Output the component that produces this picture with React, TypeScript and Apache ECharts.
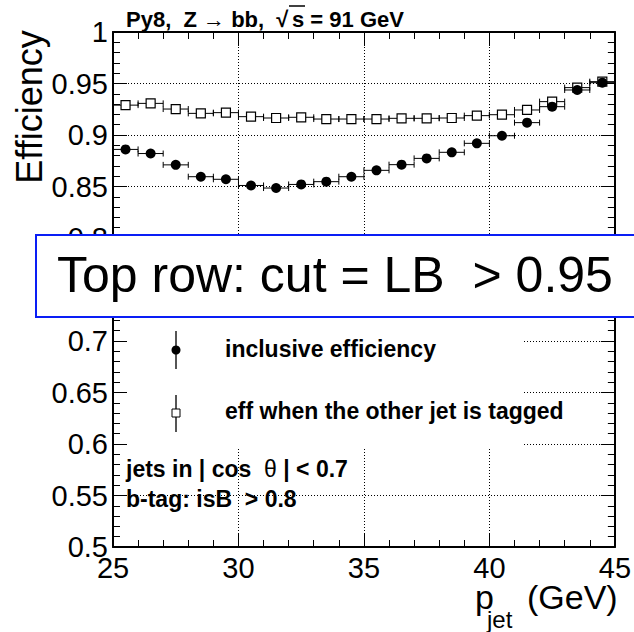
import React, { useEffect, useRef } from "react";
import * as echarts from "echarts";

// ---- data ----
const ptBins = [25.5, 26.5, 27.5, 28.5, 29.5, 30.5, 31.5, 32.5, 33.5, 34.5, 35.5, 36.5, 37.5, 38.5, 39.5, 40.5, 41.5, 42.5, 43.5, 44.5];
const inclusiveEff = [0.886, 0.882, 0.871, 0.8595, 0.857, 0.851, 0.8485, 0.852, 0.8547, 0.8595, 0.8657, 0.8712, 0.8773, 0.8832, 0.8919, 0.8993, 0.912, 0.9275, 0.9437, 0.9508];
const taggedEff = [0.929, 0.9307, 0.9252, 0.921, 0.9217, 0.9178, 0.9165, 0.9172, 0.9155, 0.9155, 0.9155, 0.9162, 0.9162, 0.9165, 0.9188, 0.9197, 0.9243, 0.9324, 0.946, 0.9518];
const binWidth = 1;
const xTickLabels = [25, 30, 35, 40, 45];
const yTicks = { min: 0.5, max: 1, step: 0.05 };

const FONT = '"Liberation Sans", Arial, Helvetica, sans-serif';

function errBarSeries(values: number[], z: number) {
  return {
    type: "custom",
    z,
    silent: true,
    data: ptBins.map((x, i) => [x, values[i]]),
    renderItem: (_p: any, api: any) => {
      const x = api.value(0);
      const y = api.value(1);
      const a = api.coord([x - binWidth / 2, y]);
      const b = api.coord([x + binWidth / 2, y]);
      const st = { stroke: "#000", lineWidth: 1 };
      return {
        type: "group",
        children: [
          { type: "line", shape: { x1: a[0], y1: a[1], x2: b[0], y2: b[1] }, style: st },
          { type: "line", shape: { x1: a[0], y1: a[1] - 3, x2: a[0], y2: a[1] + 3 }, style: st },
          { type: "line", shape: { x1: b[0], y1: b[1] - 3, x2: b[0], y2: b[1] + 3 }, style: st },
        ],
      };
    },
  };
}

export default function App() {
  const ref = useRef<HTMLDivElement>(null);
  useEffect(() => {
    if (!ref.current) return;
    const chart = echarts.init(ref.current, undefined, { renderer: "svg" });
    const tickCommon = {
      axisLine: { show: true, onZero: false, lineStyle: { color: "#000", width: 2 } },
      axisTick: { show: true, inside: true, length: 14, lineStyle: { color: "#000", width: 1 } },
      minorTick: { show: true, splitNumber: 5, length: 7, lineStyle: { color: "#000", width: 1 } },
    };
    const grid = { type: [1, 2], color: "#000", width: 1 };
    const xBase = { type: "value", min: xTickLabels[0], max: xTickLabels[xTickLabels.length - 1], interval: xTickLabels[1] - xTickLabels[0], ...tickCommon };
    const yBase = { type: "value", min: yTicks.min, max: yTicks.max, interval: yTicks.step, ...tickCommon };
    const txt = (text: string, x: number, y: number, size: number, extra: any = {}) => ({
      type: "text",
      x,
      y,
      z: 20,
      style: { text, fill: "#000", fontSize: size, fontFamily: FONT, align: "left", verticalAlign: "middle", ...extra },
    });
    chart.setOption({
      animation: false,
      backgroundColor: "#fff",
      grid: { left: 113, right: 13, top: 32, bottom: 85, containLabel: false },
      xAxis: [
        { ...xBase, position: "bottom", axisLabel: { fontSize: 29, color: "#000", fontFamily: FONT, margin: 6 }, splitLine: { show: true, lineStyle: grid } },
        { ...xBase, position: "top", axisLabel: { show: false }, splitLine: { show: false } },
      ],
      yAxis: [
        { ...yBase, position: "left", axisLabel: { fontSize: 29, color: "#000", fontFamily: FONT, margin: 5 }, splitLine: { show: true, lineStyle: grid } },
        { ...yBase, position: "right", axisLabel: { show: false }, splitLine: { show: false } },
      ],
      series: [
        errBarSeries(taggedEff, 3),
        {
          type: "scatter",
          z: 4,
          symbol: "rect",
          symbolSize: 9,
          itemStyle: { color: "#fff", borderColor: "#000", borderWidth: 1.2, opacity: 1 },
          data: ptBins.map((x, i) => [x, taggedEff[i]]),
        },
        errBarSeries(inclusiveEff, 5),
        {
          type: "scatter",
          z: 6,
          symbol: "circle",
          symbolSize: 10,
          itemStyle: { color: "#000", opacity: 1 },
          data: ptBins.map((x, i) => [x, inclusiveEff[i]]),
        },
      ],
      graphic: [
        // legend background
        { type: "rect", z: 1, shape: { x: 128, y: 300, width: 394, height: 147 }, style: { fill: "#fff", stroke: null } },
        // legend entries
        { type: "line", z: 20, shape: { x1: 176, y1: 331, x2: 176, y2: 369 }, style: { stroke: "#555", lineWidth: 2 } },
        { type: "circle", z: 21, shape: { cx: 176, cy: 350, r: 4.5 }, style: { fill: "#000" } },
        txt("inclusive efficiency", 225, 349, 23, { fontWeight: "bold" }),
        { type: "line", z: 20, shape: { x1: 176, y1: 395, x2: 176, y2: 432 }, style: { stroke: "#555", lineWidth: 2 } },
        { type: "rect", z: 21, shape: { x: 172, y: 409, width: 8, height: 8 }, style: { fill: "#fff", stroke: "#000", lineWidth: 1 } },
        txt("eff when the other jet is tagged", 225, 411, 23, { fontWeight: "bold" }),
        // cut labels
        {
          type: "text",
          x: 126,
          y: 469,
          z: 20,
          style: {
            text: "{b|jets in | cos  }{t|θ}{b| | < 0.7}",
            verticalAlign: "middle",
            rich: {
              b: { fontSize: 23, fontWeight: "bold", fontFamily: FONT, fill: "#000" },
              t: { fontSize: 23, fontFamily: FONT, fill: "#000" },
            },
          },
        },
        txt("b-tag: isB  > 0.8", 126, 499, 23, { fontWeight: "bold" }),
        // title
        txt("Py8,  Z → bb,  √", 126, 19, 22, { fontWeight: "bold" }),
        txt("s = 91 GeV", 292, 19, 22, { fontWeight: "bold" }),
        { type: "line", z: 20, shape: { x1: 289, y1: 6, x2: 305, y2: 6 }, style: { stroke: "#000", lineWidth: 1.5 } },
        // axis titles
        { ...txt("Efficiency", 29, 107, 36, { align: "center" }), rotation: Math.PI / 2 },
        txt("p", 475, 597, 34),
        txt("jet", 487, 619, 24),
        txt("(GeV)", 527, 597, 34),
        // overlay box
        { type: "rect", z: 50, shape: { x: 36, y: 235, width: 620, height: 82 }, style: { fill: "#fff", stroke: "#0a1ef5", lineWidth: 2 } },
        { ...txt("Top row: cut = LB  > 0.95", 57, 275, 50), z: 51 },
      ],
    });
    return () => chart.dispose();
  }, []);
  return <div ref={ref} style={{ position: "absolute", left: 0, top: 0, width: 634, height: 632 }} />;
}
